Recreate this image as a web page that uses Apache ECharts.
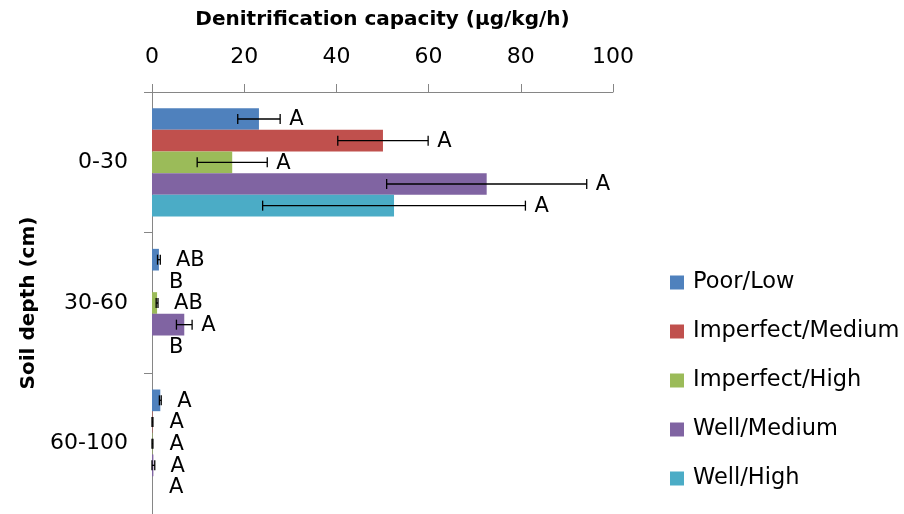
<!DOCTYPE html>
<html>
<head>
<meta charset="utf-8">
<script src="https://cdn.jsdelivr.net/npm/echarts@6/dist/echarts.min.js"></script>
<style>
html,body{margin:0;padding:0;background:#fff;}
#chart{width:904px;height:514px;}
</style>
</head>
<body>
<div id="chart"></div>
<script>
const categories = ['0-30', '30-60', '60-100'];
const seriesNames = ['Poor/Low', 'Imperfect/Medium', 'Imperfect/High', 'Well/Medium', 'Well/High'];
const colors = ['#4F81BD', '#C0504D', '#9BBB59', '#8064A2', '#4BACC6'];
const xTicks = [0, 20, 40, 60, 80, 100];

const poorLow = [23.2, 1.5, 1.8];
const imperfectMedium = [50.1, 0, 0.1];
const imperfectHigh = [17.4, 1.1, 0.1];
const wellMedium = [72.6, 7.0, 0.3];
const wellHigh = [52.5, 0, 0];

const poorLowErr = [4.6, 0.3, 0.2];
const imperfectMediumErr = [9.8, 0, 0.1];
const imperfectHighErr = [7.6, 0.2, 0.1];
const wellMediumErr = [21.7, 1.7, 0.3];
const wellHighErr = [28.5, 0, 0];

const poorLowLetters = ['A', 'AB', 'A'];
const imperfectMediumLetters = ['A', 'B', 'A'];
const imperfectHighLetters = ['A', 'AB', 'A'];
const wellMediumLetters = ['A', 'A', 'A'];
const wellHighLetters = ['A', 'B', 'A'];

const values = [poorLow, imperfectMedium, imperfectHigh, wellMedium, wellHigh];
const errors = [poorLowErr, imperfectMediumErr, imperfectHighErr, wellMediumErr, wellHighErr];
const letters = [poorLowLetters, imperfectMediumLetters, imperfectHighLetters, wellMediumLetters, wellHighLetters];

const FONT = 'DejaVu Sans';
const CAT_GAP = 0.23;

const errData = [];
values.forEach((vals, s) => {
  vals.forEach((v, c) => {
    errData.push([v + errors[s][c], c, v - errors[s][c], s, errors[s][c], v]);
  });
});

const chart = echarts.init(document.getElementById('chart'), null, {renderer: 'canvas'});

const barSeries = seriesNames.map((name, s) => ({
  name: name,
  type: 'bar',
  data: values[s],
  barGap: '0%',
  barCategoryGap: (CAT_GAP * 100) + '%',
  itemStyle: {color: colors[s]},
  emphasis: {disabled: true}
}));

const errSeries = {
  type: 'custom',
  name: 'err',
  z: 10,
  encode: {x: 0, y: 1},
  data: errData,
  renderItem: function (params, api) {
    const hi = api.value(0);
    const c = api.value(1);
    const lo = api.value(2);
    const s = api.value(3);
    const err = api.value(4);
    const v = api.value(5);
    const bandW = api.size([0, 1])[1];
    const groupW = bandW * (1 - CAT_GAP);
    const barW = groupW / seriesNames.length;
    const pHi = api.coord([hi, c]);
    const pLo = api.coord([Math.max(lo, 0), c]);
    const pV = api.coord([v, c]);
    const y = pHi[1] - groupW / 2 + barW * (s + 0.5);
    const children = [];
    const cap = 5;
    const st = {stroke: '#000', lineWidth: 1.3};
    if (err > 0) {
      children.push({type: 'line', shape: {x1: pLo[0], y1: y, x2: pHi[0], y2: y}, style: st});
      children.push({type: 'line', shape: {x1: pLo[0], y1: y - cap, x2: pLo[0], y2: y + cap}, style: st});
      children.push({type: 'line', shape: {x1: pHi[0], y1: y - cap, x2: pHi[0], y2: y + cap}, style: st});
    }
    const lx = Math.max(pHi[0] + 9, pV[0] + 17);
    children.push({
      type: 'text',
      style: {
        x: lx, y: y + 1,
        text: letters[s][c],
        fill: '#000',
        font: '21px "' + FONT + '"',
        align: 'left',
        verticalAlign: 'middle'
      }
    });
    return {type: 'group', children: children};
  }
};

chart.setOption({
  animation: false,
  backgroundColor: '#fff',
  textStyle: {fontFamily: FONT},
  grid: {left: 152, top: 92, width: 461, height: 423, containLabel: false},
  legend: {
    orient: 'vertical',
    left: 670,
    top: 271,
    padding: 0,
    itemWidth: 14,
    itemHeight: 14,
    itemGap: 26,
    icon: 'rect',
    data: seriesNames,
    textStyle: {fontFamily: FONT, fontSize: 22.5, color: '#000', lineHeight: 22, padding: [0, 0, 0, 4]},
    selectedMode: false
  },
  xAxis: {
    type: 'value',
    position: 'top',
    min: xTicks[0],
    max: xTicks[xTicks.length - 1],
    interval: xTicks[1] - xTicks[0],
    name: 'Denitrification capacity (µg/kg/h)',
    nameLocation: 'middle',
    nameGap: 62,
    nameTextStyle: {fontFamily: FONT, fontSize: 20, fontWeight: 'bold', color: '#000'},
    axisLine: {show: true, lineStyle: {color: '#868686', width: 1}},
    axisTick: {show: true, length: 8, lineStyle: {color: '#868686'}},
    axisLabel: {fontFamily: FONT, fontSize: 22, color: '#000', margin: 24},
    splitLine: {show: false}
  },
  yAxis: {
    type: 'category',
    inverse: true,
    data: categories,
    name: 'Soil depth (cm)',
    nameLocation: 'middle',
    nameRotate: 90,
    nameGap: 109,
    nameTextStyle: {fontFamily: FONT, fontSize: 20, fontWeight: 'bold', color: '#000'},
    axisLine: {show: true, lineStyle: {color: '#868686', width: 1}},
    axisTick: {show: true, length: 8, lineStyle: {color: '#868686'}},
    axisLabel: {fontFamily: FONT, fontSize: 22, color: '#000', margin: 24},
    splitLine: {show: false}
  },
  series: barSeries.concat([errSeries])
});
</script>
</body>
</html>
